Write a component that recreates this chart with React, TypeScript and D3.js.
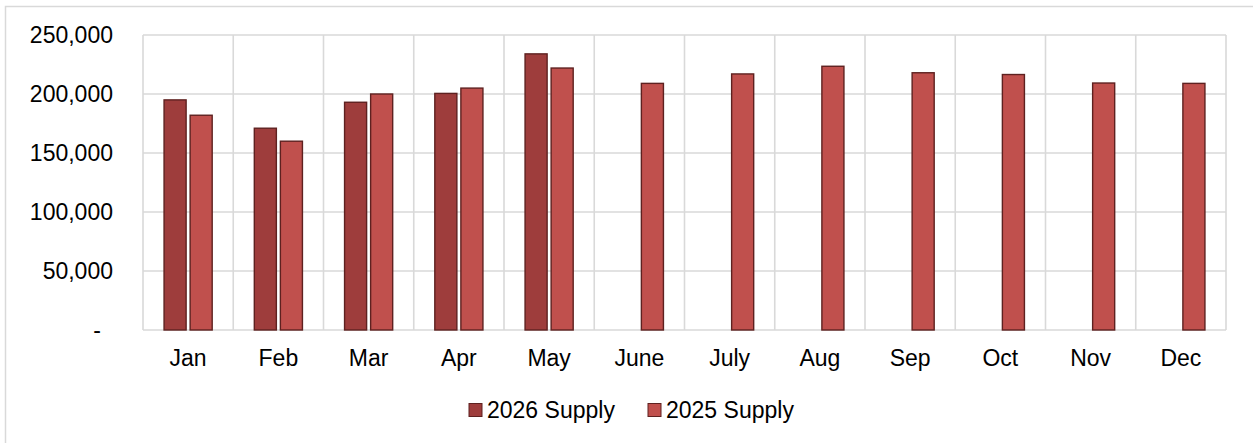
import React from "react";
import { scaleBand, scaleLinear, format } from "d3";

const months = ["Jan", "Feb", "Mar", "Apr", "May", "June", "July", "Aug", "Sep", "Oct", "Nov", "Dec"];
const series = ["2026 Supply", "2025 Supply"];
const supply2026: (number | null)[] = [195000, 171000, 193000, 200500, 234000, null, null, null, null, null, null, null];
const supply2025: number[] = [182000, 160000, 200000, 205000, 222000, 209000, 217000, 223500, 218000, 216500, 209300, 209000];
const yTicks = [0, 50000, 100000, 150000, 200000, 250000];

const colors = ["#9E3D3C", "#C0504D"];
const strokeColor = "#5E2120";
const gridColor = "#D9D9D9";
const font = "'Liberation Sans', Arial, sans-serif";

const W = 1253;
const H = 443;
const plot = { left: 143, right: 1226, top: 35, bottom: 330 };

export default function App() {
  const x = scaleBand<string>().domain(months).range([plot.left, plot.right]).paddingInner(0).paddingOuter(0);
  const xs = scaleBand<string>()
    .domain(series)
    .range([0, x.bandwidth()])
    .paddingInner(0.154)
    .paddingOuter(0.808);
  const y = scaleLinear().domain([0, 250000]).range([plot.bottom, plot.top]);
  const fmt = format(",");

  const values = [supply2026, supply2025];

  // legend layout
  const legendY = 410;
  const legendItems = [
    { label: series[0], x: 469 },
    { label: series[1], x: 648 },
  ];

  return (
    <svg
      width={W}
      height={H}
      style={{ position: "absolute", left: 0, top: 0, display: "block", background: "#fff" }}
      fontFamily={font}
    >
      {/* outer chart border */}
      <path d={`M5.5,${H} V6.5 H${W}`} fill="none" stroke={gridColor} strokeWidth={1.5} />

      {/* horizontal grid */}
      {yTicks.map((t) => (
        <line key={t} x1={plot.left} x2={plot.right} y1={y(t)} y2={y(t)} stroke={gridColor} strokeWidth={1.6} />
      ))}
      {/* vertical grid */}
      {[...months.map((m) => x(m) as number), plot.right].map((gx, i) => (
        <line key={i} x1={gx} x2={gx} y1={plot.top} y2={plot.bottom} stroke={gridColor} strokeWidth={1.6} />
      ))}

      {/* bars */}
      {series.map((s, si) =>
        months.map((m, mi) => {
          const v = values[si][mi];
          if (v == null) return null;
          const bx = (x(m) as number) + (xs(s) as number);
          return (
            <rect
              key={`${s}-${m}`}
              x={bx}
              y={y(v)}
              width={xs.bandwidth()}
              height={y(0) - y(v)}
              fill={colors[si]}
              stroke={strokeColor}
              strokeWidth={1.4}
            />
          );
        })
      )}

      {/* y axis labels */}
      {yTicks.map((t) => (
        <text
          key={t}
          x={t === 0 ? 101 : 113}
          y={y(t)}
          dy="0.36em"
          textAnchor="end"
          fontSize={23}
          fill="#000"
        >
          {t === 0 ? "-" : fmt(t)}
        </text>
      ))}

      {/* x axis labels */}
      {months.map((m) => (
        <text key={m} x={(x(m) as number) + x.bandwidth() / 2} y={366} textAnchor="middle" fontSize={23} fill="#000">
          {m}
        </text>
      ))}

      {/* legend */}
      {legendItems.map((it, i) => (
        <g key={it.label}>
          <rect x={it.x} y={legendY - 6.5} width={13} height={13} fill={colors[i]} stroke={strokeColor} strokeWidth={1} />
          <text x={it.x + 18} y={legendY} dy="0.36em" fontSize={23} fill="#000">
            {it.label}
          </text>
        </g>
      ))}
    </svg>
  );
}
